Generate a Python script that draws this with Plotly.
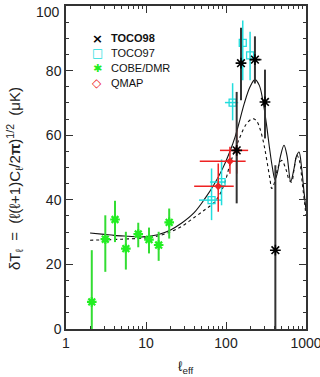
import plotly.graph_objects as go

# ---------------- data ----------------
# TOCO98 (black asterisks)
toco98_l = [136, 154, 230, 307, 414]
toco98_y = [55.3, 82.3, 83.4, 70.3, 24.4]
toco98_up = [18.1, 11.0, 7.2, 10.0, 26.3]
toco98_dn = [16.4, 11.5, 7.4, 11.3, 24.4]
toco98_lhi = [0, 0, 48, 0, 0]
toco98_llo = [0, 0, 30, 0, 0]

# TOCO97 (cyan squares)
toco97_l = [66, 88, 121, 162, 200]
toco97_y = [39.9, 45.5, 70.1, 88.6, 84.7]
toco97_up = [9.8, 7.0, 6.0, 6.9, 7.3]
toco97_dn = [6.2, 7.2, 5.5, 11.6, 7.7]
toco97_lhi = [22, 9, 21, 0, 0]
toco97_llo = [20, 25, 24, 0, 0]

# COBE/DMR (green asterisks)
cobe_l = [2.1, 3.1, 4.1, 5.6, 8.0, 10.9, 14.4, 19.5]
cobe_y = [8.4, 27.8, 33.9, 24.9, 29.4, 27.7, 26.0, 33.0]
cobe_up = [16.0, 7.4, 5.8, 5.2, 3.5, 3.7, 4.1, 4.3]
cobe_dn = [8.4, 10.1, 7.0, 6.5, 4.1, 4.3, 4.9, 5.0]

# QMAP (red diamonds)
qmap_l = [80, 112, 136]
qmap_y = [44.2, 51.9, 55.3]
qmap_up = [7.0, 4.5, 6.5]
qmap_dn = [7.9, 3.8, 7.2]
qmap_lhi = [45, 64, 53]
qmap_llo = [40, 65, 52]

# theory curves
solid_l = [2, 3, 4, 6, 8, 10, 14, 20, 28, 40, 55, 70, 90, 110, 130, 150, 170, 200,
           230, 260, 290, 320, 350, 380, 410, 440, 480, 531, 580, 644, 700, 760,
           818, 880, 940, 1000]
solid_y = [29.7, 29.3, 29.0, 28.7, 28.5, 28.6, 29.2, 30.6, 32.8, 36.0, 40.5, 44.5,
           49.5, 54.5, 59.5, 65.0, 70.0, 75.0, 77.2, 75.5, 70.5, 63.5, 56.0, 50.0,
           46.3, 48.5, 53.5, 56.9, 53.5, 45.7, 49.0, 53.5, 54.8, 50.0, 43.0, 36.8]
dash_l = [2, 4, 6, 10, 14, 20, 28, 40, 55, 70, 85, 100, 112, 130, 150, 180, 215,
          240, 266, 290, 307, 330, 354, 373, 400, 440, 497, 560, 620, 660, 710,
          770, 830, 900, 960, 1000]
dash_y = [27.5, 27.7, 27.9, 28.2, 28.8, 30.0, 31.8, 34.5, 37.0, 39.0, 42.0, 46.5,
          51.0, 55.5, 59.5, 63.5, 65.1, 64.5, 62.0, 58.5, 55.5, 51.0, 46.5, 43.5,
          45.0, 49.5, 52.2, 49.5, 46.0, 45.5, 49.5, 53.8, 52.0, 45.0, 39.0, 35.2]

x_ticks = [1, 10, 100, 1000]
x_ticktext = ["1", "10", "100", "1000"]
x_minor = [m * d for d in (1, 10, 100) for m in range(2, 10)]
y_ticks = [0, 20, 40, 60, 80, 100]
y_ticktext = ["0", "20", "40", "60", "80", ""]   # top label "100" placed below
y_top_label = "100"

legend_names = ["TOCO98", "TOCO97", "COBE/DMR", "QMAP"]
legend_syms = ["\u00d7", "\u25a1", "\u2731", "\u25c7"]
legend_cols = ["#000000", "#22dddd", "#22ee22", "#ee2222"]

# ---------------- figure ----------------
FONT = "Liberation Sans, Arial, Helvetica, sans-serif"
fig = go.Figure()

fig.add_trace(go.Scatter(x=solid_l, y=solid_y, mode="lines", line_shape="spline",
                         line=dict(color="#111111", width=1.1), showlegend=False))
fig.add_trace(go.Scatter(x=dash_l, y=dash_y, mode="lines", line_shape="spline",
                         line=dict(color="#111111", width=1.1, dash="3px,3px"),
                         showlegend=False))

fig.add_trace(go.Scatter(
    x=cobe_l, y=cobe_y, mode="markers", showlegend=False,
    marker=dict(symbol="asterisk-open", size=8, color="#22ee22",
                line=dict(color="#22ee22", width=2.2)),
    error_y=dict(type="data", symmetric=False, array=cobe_up, arrayminus=cobe_dn,
                 color="#33dd33", thickness=2, width=0)))

fig.add_trace(go.Scatter(
    x=toco97_l, y=toco97_y, mode="markers", showlegend=False,
    marker=dict(symbol="square-open", size=7, color="#22dddd",
                line=dict(color="#22dddd", width=1.3)),
    error_y=dict(type="data", symmetric=False, array=toco97_up, arrayminus=toco97_dn,
                 color="#22dddd", thickness=1.5, width=0),
    error_x=dict(type="data", symmetric=False, array=toco97_lhi, arrayminus=toco97_llo,
                 color="#22dddd", thickness=1.5, width=0)))

fig.add_trace(go.Scatter(
    x=qmap_l, y=qmap_y, mode="markers", showlegend=False,
    marker=dict(symbol="diamond", size=6, color="#ee2222"),
    error_y=dict(type="data", symmetric=False, array=qmap_up, arrayminus=qmap_dn,
                 color="#ee2222", thickness=1.5, width=0),
    error_x=dict(type="data", symmetric=False, array=qmap_lhi, arrayminus=qmap_llo,
                 color="#ee2222", thickness=1.5, width=0)))

fig.add_trace(go.Scatter(
    x=toco98_l, y=toco98_y, mode="markers", showlegend=False,
    marker=dict(symbol="asterisk-open", size=9, color="#000000",
                line=dict(color="#000000", width=1.6)),
    error_y=dict(type="data", symmetric=False, array=toco98_up, arrayminus=toco98_dn,
                 color="#333333", thickness=2, width=0),
    error_x=dict(type="data", symmetric=False, array=toco98_lhi, arrayminus=toco98_llo,
                 color="#333333", thickness=1.5, width=0)))

# legend built from annotations (pixel layout of the reference)
L, R, T, B = 66, 14, 6, 48
W, H = 320, 377
pw, ph = W - L - R, H - T - B
def px2x(px):
    return (px - L) / pw
def py2y(py):
    return (H - B - py) / ph

sym_sizes = [13, 12, 11, 12]
for i, (nm, sy, col) in enumerate(zip(legend_names, legend_syms, legend_cols)):
    yy = py2y(38 + 15 * i)
    fig.add_annotation(x=px2x(97), y=yy, xref="paper", yref="paper",
                       text="<b>%s</b>" % sy,
                       showarrow=False, xanchor="center", yanchor="middle",
                       font=dict(family="DejaVu Sans", size=sym_sizes[i], color=col))
    fig.add_annotation(x=px2x(109), y=yy, xref="paper", yref="paper",
                       text=("<b>%s</b>" % nm) if i == 0 else nm,
                       showarrow=False, xanchor="left", yanchor="middle",
                       font=dict(family=FONT, size=11, color="#111111"))

# top y tick label, nudged down so it stays inside the page
fig.add_annotation(x=px2x(62), y=py2y(12), xref="paper", yref="paper",
                   text=y_top_label, showarrow=False, xanchor="right", yanchor="middle",
                   font=dict(family=FONT, size=14, color="#222222"))

fig.add_annotation(x=px2x(14), y=py2y(179), xref="paper", yref="paper",
                   text="\u03b4T<sub>\u2113</sub>  =  (\u2113(\u2113+1)C<sub>\u2113</sub>/2<b>\u03c0</b>)<sup>1/2</sup>  (\u03bcK)",
                   textangle=-90, showarrow=False, xanchor="center", yanchor="middle",
                   font=dict(family=FONT, size=15, color="#222222"))
fig.add_annotation(x=px2x(186), y=py2y(367), xref="paper", yref="paper",
                   text="\u2113<sub>eff</sub>", showarrow=False,
                   xanchor="center", yanchor="middle",
                   font=dict(family=FONT, size=14, color="#222222"))

axis_common = dict(showline=True, linecolor="#333333", linewidth=1.5, mirror="ticks",
                   ticks="inside", ticklen=7, tickwidth=1, tickcolor="#333333",
                   showgrid=False, zeroline=False, ticklabeloverflow="allow",
                   automargin=False,
                   tickfont=dict(family=FONT, size=14, color="#222222"))

fig.update_layout(
    width=W, height=H, margin=dict(l=L, r=R, t=T, b=B, autoexpand=False),
    paper_bgcolor="white", plot_bgcolor="white", showlegend=False,
    xaxis=dict(type="log", range=[0, 3], tickvals=x_ticks, ticktext=x_ticktext,
               minor=dict(tickvals=x_minor, ticks="inside", ticklen=3.5,
                          tickcolor="#333333", showgrid=False),
               **axis_common),
    yaxis=dict(range=[0, 100], tickvals=y_ticks, ticktext=y_ticktext,
               minor=dict(dtick=5, ticks="inside", ticklen=3.5,
                          tickcolor="#333333", showgrid=False),
               **axis_common),
)

fig.write_html("out.html")
